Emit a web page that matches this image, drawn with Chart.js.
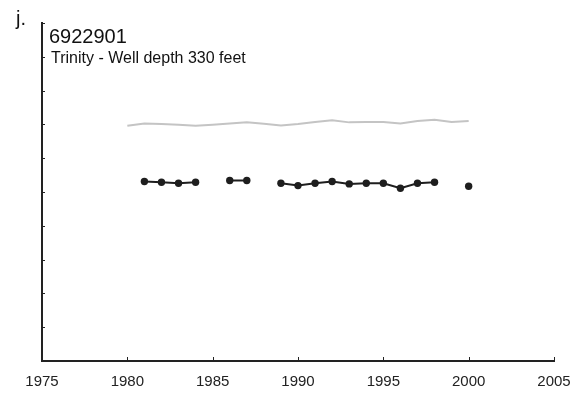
<!DOCTYPE html>
<html>
<head>
<meta charset="utf-8">
<script src="https://cdn.jsdelivr.net/npm/chart.js@4/dist/chart.umd.min.js"></script>
<style>
    html, body { margin: 0; padding: 0; background: #fff; }
    #wrap { width: 585px; height: 397px; }
</style>
</head>
<body>
<div id="wrap"><canvas id="chart"></canvas></div>
<script>
const years = [1980, 1981, 1982, 1983, 1984, 1985, 1986, 1987, 1988, 1989, 1990,
    1991, 1992, 1993, 1994, 1995, 1996, 1997, 1998, 1999, 2000];
const upperLevels = [6.96, 7.03, 7.01, 6.99, 6.96, 6.99, 7.03, 7.06, 7.02, 6.97, 7.01,
    7.07, 7.12, 7.06, 7.07, 7.07, 7.03, 7.10, 7.14, 7.07, 7.10];
const wellLevels = [null, 5.31, 5.29, 5.26, 5.29, null, 5.34, 5.34, null, 5.26, 5.19,
    5.26, 5.31, 5.24, 5.26, 5.26, 5.11, 5.26, 5.29, null, 5.17];
const xTicks = [1975, 1980, 1985, 1990, 1995, 2000, 2005];
const yTicks = [0, 1, 2, 3, 4, 5, 6, 7, 8, 9, 10];

const panelLabel = "j.";
const wellId = "6922901";
const wellNote = "Trinity - Well depth 330 feet";

const FONT = "'Liberation Sans', Arial, sans-serif";

// inward tick marks + header text
const decorations = {
    id: "decorations",
    afterDraw(chart) {
        const { ctx, chartArea: { left, bottom } } = chart;
        const xs = chart.scales.x;
        const ys = chart.scales.y;
        ctx.save();
        ctx.strokeStyle = "#222";
        ctx.lineWidth = 1;
        ctx.beginPath();
        xTicks.forEach(v => {
            const px = Math.round(xs.getPixelForValue(v)) + 0.5;
            ctx.moveTo(px, bottom);
            ctx.lineTo(px, bottom - 4);
        });
        yTicks.forEach(v => {
            const py = Math.round(ys.getPixelForValue(v)) + 0.5;
            ctx.moveTo(left, py);
            ctx.lineTo(left + 3, py);
        });
        ctx.stroke();

        ctx.fillStyle = "#111";
        ctx.textBaseline = "alphabetic";
        ctx.textAlign = "left";
        ctx.font = `20px ${FONT}`;
        ctx.fillText(panelLabel, 16, 25);
        ctx.font = `20px ${FONT}`;
        ctx.fillText(wellId, 49, 43);
        ctx.font = `16px ${FONT}`;
        ctx.fillText(wellNote, 51, 62.5);
        ctx.restore();
    },
};

new Chart(document.getElementById("chart"), {
    type: "line",
    data: {
        labels: years,
        datasets: [
            {
                data: years.map((y, i) => ({ x: y, y: upperLevels[i] })),
                borderColor: "#c4c4c4",
                backgroundColor: "#c4c4c4",
                borderWidth: 2,
                pointRadius: 0,
                tension: 0,
            },
            {
                data: years.map((y, i) => ({ x: y, y: wellLevels[i] })),
                borderColor: "#1e1e1e",
                backgroundColor: "#1e1e1e",
                borderWidth: 2,
                pointRadius: 3.7,
                pointBorderWidth: 0,
                spanGaps: false,
                tension: 0,
            },
        ],
    },
    options: {
        responsive: true,
        maintainAspectRatio: false,
        animation: false,
        layout: { padding: { top: 23, right: 31, left: 0, bottom: 0 } },
        plugins: {
            legend: { display: false },
            tooltip: { enabled: false },
        },
        scales: {
            x: {
                type: "linear",
                min: 1975,
                max: 2005,
                afterBuildTicks: scale => { scale.ticks = xTicks.map(v => ({ value: v })); },
                ticks: {
                    color: "#222",
                    font: { family: FONT, size: 15 },
                    padding: 4,
                    maxRotation: 0,
                    callback: v => String(v),
                },
                grid: { display: false },
                border: { display: true, color: "#222", width: 2 },
                afterFit: scale => { scale.height = 36; },
            },
            y: {
                type: "linear",
                min: 0,
                max: 10,
                afterBuildTicks: scale => { scale.ticks = yTicks.map(v => ({ value: v })); },
                ticks: { display: false },
                grid: { display: false },
                border: { display: true, color: "#222", width: 2 },
                afterFit: scale => { scale.width = 42; },
            },
        },
    },
    plugins: [decorations],
});
</script>
</body>
</html>
